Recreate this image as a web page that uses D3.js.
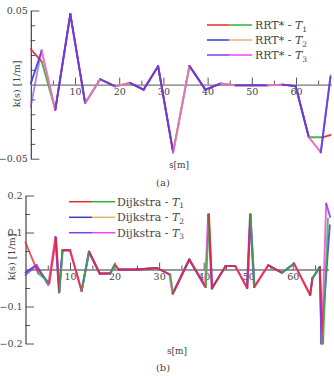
<!DOCTYPE html>
<html>
<head>
<meta charset="utf-8">
<script src="https://cdn.jsdelivr.net/npm/d3@7"></script>
<style>
  body { margin: 0; background: #fff; }
  svg { display: block; font-family: "DejaVu Serif", serif; }
</style>
</head>
<body>
<div id="chart"></div>
<script>
// panel (a): RRT*
const sA1 = [0, 2.5, 5.54, 8.94, 12.3, 15.7, 19.1, 22.4, 25.5, 28.8, 32.2, 35.9, 39.5, 42.9, 46.3, 50.0, 53.5, 56.9, 59.9, 62.9, 66.2, 67.8];
const kA1 = [0.0239, 0.0153, -0.017, 0.0476, -0.0125, 0.0036, -0.0012, 0.0011, -0.0034, 0.0124, -0.0457, 0.0126, -0.0034, 0.0007, -0.0005, -0.0005, -0.0005, 0.0, -0.001, -0.0355, -0.0355, -0.034];
const pA1 = [0, 1, 0, 0, 1, 0, 1, 0, 0, 0, 1, 0, 0, 1, 0, 0, 1, 0, 0, 1, 0, 0];

const sA2 = [0, 2.5, 5.54, 8.94, 12.3, 15.7, 19.1, 22.4, 25.5, 28.8, 32.2, 35.9, 39.5, 42.9, 46.3, 50.0, 53.5, 56.9, 59.9, 62.9, 65.6, 67.8];
const kA2 = [0.0007, 0.023, -0.017, 0.0476, -0.0125, 0.0036, -0.0012, 0.0011, -0.0034, 0.0124, -0.0457, 0.0126, -0.0034, 0.0007, -0.0005, -0.0005, -0.0005, 0.0, -0.001, -0.0355, -0.0457, 0.0051];
const pA2 = [0, 1, 0, 0, 1, 0, 1, 0, 0, 0, 1, 0, 0, 1, 0, 0, 1, 0, 0, 1, 0, 0];

const sA3 = [0, 2.4, 5.54, 8.94, 12.3, 15.7, 19.1, 22.4, 25.5, 28.8, 32.2, 35.9, 39.5, 42.9, 46.3, 50.0, 53.5, 56.9, 59.9, 62.9, 65.6, 67.8];
const kA3 = [-0.0147, 0.023, -0.017, 0.0476, -0.0125, 0.0036, -0.0012, 0.0011, -0.0034, 0.0124, -0.0457, 0.0126, -0.0034, 0.0007, -0.0005, -0.0005, -0.0005, 0.0, -0.001, -0.0355, -0.0457, 0.0063];
const pA3 = [0, 1, 0, 0, 1, 0, 1, 0, 0, 0, 1, 0, 0, 1, 0, 0, 1, 0, 0, 1, 0, 0];

// panel (b): Dijkstra
const sB1 = [0, 2.9, 5.35, 6.85, 7.6, 8.35, 10, 12.6, 14.3, 16.7, 19, 20.1, 20.9, 25, 29.5, 32.5, 33.1, 36.8, 40.5, 41.2, 41.9, 44.9, 47.1, 49.8, 50.5, 51.4, 54.5, 57.6, 60.3, 63.9, 64.4, 66.1, 66.8, 67.9];
const kB1 = [0.073, -0.011, -0.036, 0.086, -0.06, 0.052, 0.052, -0.058, 0.048, -0.011, -0.011, 0.0135, 0, 0, 0.004, -0.0135, -0.065, 0.027, -0.047, 0.149, -0.051, 0.009, 0.009, -0.05, 0.149, -0.047, 0.0115, -0.009, 0.016, -0.069, -0.024, 0.007, -0.2, 0.138];
const pB1 = [0, 1, 0, 0, 1, 0, 0, 1, 0, 0, 1, 0, 0, 0, 0, 1, 0, 0, 1, 0, 0, 0, 0, 0, 1, 0, 0, 1, 0, 0, 1, 0, 1, 0];

const sB2 = [0, 2.2, 5.3, 6.8, 7.6, 8.3, 10, 12.6, 14.3, 16.7, 19, 20.1, 20.9, 25, 29.5, 32.4, 33.1, 36.8, 40.4, 41.1, 41.9, 44.9, 47.1, 49.8, 50.5, 51.4, 54.5, 57.6, 60.3, 63.9, 64.4, 66.1, 66.4, 68.3];
const kB2 = [-0.008, 0.01, -0.038, 0.086, -0.06, 0.052, 0.052, -0.058, 0.048, -0.011, -0.011, 0.0135, 0, 0, 0.004, -0.0135, -0.065, 0.027, -0.047, 0.149, -0.051, 0.009, 0.009, -0.05, 0.149, -0.047, 0.0115, -0.009, 0.016, -0.069, -0.024, 0.007, -0.2, 0.12];
const pB2 = [0, 0, 1, 0, 0, 0, 1, 0, 0, 0, 0, 1, 0, 0, 0, 1, 0, 0, 1, 0, 0, 0, 1, 0, 0, 1, 0, 0, 1, 0, 0, 0, 0, 0];

const sB3 = [0, 2.5, 5.1, 6.7, 7.5, 8.3, 10, 12.6, 14.2, 16.6, 19, 20.0, 20.9, 25, 29.5, 32.3, 33.0, 36.7, 40.3, 41.0, 41.8, 44.9, 47.1, 49.7, 50.4, 51.3, 54.5, 57.6, 60.3, 63.9, 64.4, 66.0, 66.5, 67.5, 68.4];
const kB3 = [-0.015, 0.012, -0.042, 0.088, -0.062, 0.052, 0.052, -0.058, 0.048, -0.011, -0.011, 0.0135, 0, 0, 0.004, -0.0135, -0.065, 0.027, -0.047, 0.149, -0.051, 0.009, 0.009, -0.05, 0.149, -0.047, 0.0115, -0.009, 0.016, -0.069, -0.024, 0.007, -0.2, 0.178, 0.142];
const pB3 = [0, 0, 1, 0, 0, 0, 1, 0, 0, 0, 0, 1, 0, 0, 0, 1, 0, 0, 1, 0, 0, 0, 1, 0, 0, 1, 0, 0, 1, 0, 0, 0, 1, 0, 0];

const colT1 = ["#e62a2e", "#33b033"];
const colT2 = ["#3c3cc8", "#eab070"];
const colT3 = ["#7e3cee", "#f046f0"];

const xMajor = [10, 20, 30, 40, 50, 60];
const xMinor = [5, 15, 25, 35, 45, 55, 65];
const yMajorA = [-0.05, 0.05];
const yMinorA = [-0.04, -0.03, -0.02, -0.01, 0.01, 0.02, 0.03, 0.04];
const yMajorB = [-0.2, -0.1, 0.1, 0.2];
const yMinorB = [-0.15, -0.05, 0.05, 0.15];

const W = 334, H = 376;
const textCol = "#444";
const svg = d3.select("#chart").append("svg")
    .attr("width", W)
    .attr("height", H);

const panelA = {
    x: d3.scaleLinear().domain([0, 68]).range([30.8, 331.4]),
    y: d3.scaleLinear().domain([-0.05, 0.05]).range([158.7, 10.5]),
    yMajor: yMajorA, yMinor: yMinorA, fmt: d3.format(".2f"),
    ylabelX: 20, ylabelY: 84,
    xlabel: [179, 168], tag: [163, 186], tagText: "(a)",
    series: [[sA1, kA1, pA1, colT1, 0.9], [sA2, kA2, pA2, colT2, 0.9], [sA3, kA3, pA3, colT3, 0.62]],
    legend: {x0: 207, x1: 252, tx: 255, rows: [25, 40, 55], name: "RRT* - "}
};
const panelB = {
    x: d3.scaleLinear().domain([0, 68]).range([25.5, 328.4]),
    y: d3.scaleLinear().domain([-0.2, 0.2]).range([343.5, 195.5]),
    yMajor: yMajorB, yMinor: yMinorB, fmt: d3.format(".1f"),
    ylabelX: 15, ylabelY: 257,
    xlabel: [177, 354], tag: [163, 371], tagText: "(b)",
    series: [[sB2, kB2, pB2, colT2, 0.85], [sB3, kB3, pB3, colT3, 0.85], [sB1, kB1, pB1, colT1, 0.8]],
    legend: {x0: 69, x1: 115, tx: 117, rows: [201.7, 217.3, 232.7], name: "Dijkstra - "}
};

function drawPanel(p) {
    const g = svg.append("g");
    const x0 = p.x.range()[0];
    const yZero = p.y(0);

    // y axis, ticks pointing inward
    g.append("g")
        .attr("transform", `translate(${x0},0)`)
        .call(d3.axisLeft(p.y).tickValues(p.yMinor).tickSize(-4.5).tickSizeOuter(0).tickFormat(""))
        .call(a => a.select(".domain").remove());
    const yAx = g.append("g")
        .attr("transform", `translate(${x0},0)`)
        .call(d3.axisLeft(p.y).tickValues(p.yMajor).tickSize(-8.5).tickSizeOuter(0).tickPadding(3).tickFormat(p.fmt));

    // x axis on k=0, ticks pointing up
    g.append("g")
        .attr("transform", `translate(0,${yZero})`)
        .call(d3.axisBottom(p.x).tickValues(xMinor).tickSize(-4).tickSizeOuter(0).tickFormat(""))
        .call(a => a.select(".domain").remove());
    const xAx = g.append("g")
        .attr("transform", `translate(0,${yZero})`)
        .call(d3.axisBottom(p.x).tickValues(xMajor).tickSize(-7).tickSizeOuter(0).tickPadding(4).tickFormat(d3.format("d")));

    g.selectAll(".tick line").attr("stroke", "#555").attr("stroke-width", 1);
    yAx.select(".domain").attr("stroke", "#333").attr("stroke-width", 1.1);
    xAx.select(".domain").attr("stroke", "#777").attr("stroke-width", 1.3);
    g.selectAll("g").attr("font-family", null);
    g.selectAll(".tick text")
        .attr("fill", textCol)
        .style("font-family", "'DejaVu Serif', serif")
        .style("font-size", "9.5px");

    // curves: each segment coloured by its part index
    p.series.forEach(([s, k, part, cols, op]) => {
        for (let i = 0; i < s.length - 1; i++) {
            g.append("line")
                .attr("x1", p.x(s[i])).attr("y1", p.y(k[i]))
                .attr("x2", p.x(s[i + 1])).attr("y2", p.y(k[i + 1]))
                .attr("stroke", cols[part[i]])
                .attr("stroke-width", 1.9)
                .attr("stroke-linecap", "round")
                .attr("stroke-opacity", op);
        }
    });

    // legend
    const cols = [colT1, colT2, colT3];
    const lg = p.legend;
    lg.rows.forEach((ry, i) => {
        const mid = (lg.x0 + lg.x1) / 2;
        g.append("line").attr("x1", lg.x0).attr("x2", mid).attr("y1", ry).attr("y2", ry)
            .attr("stroke", cols[i][0]).attr("stroke-width", 1.5);
        g.append("line").attr("x1", mid).attr("x2", lg.x1).attr("y1", ry).attr("y2", ry)
            .attr("stroke", cols[i][1]).attr("stroke-width", 1.5);
        const t = g.append("text")
            .attr("x", lg.tx).attr("y", ry + 4)
            .attr("fill", textCol)
            .style("font-size", "11px")
            .text(lg.name);
        t.append("tspan").style("font-style", "italic").text("T");
        t.append("tspan").attr("dy", 2.5).style("font-size", "7.5px").text(i + 1);
    });

    // axis labels
    g.append("text")
        .attr("transform", `translate(${p.ylabelX},${p.ylabelY}) rotate(-90)`)
        .attr("text-anchor", "middle")
        .attr("fill", textCol)
        .style("font-size", "9.5px")
        .text("k(s) [1/m]");
    g.append("text")
        .attr("x", p.xlabel[0]).attr("y", p.xlabel[1])
        .attr("text-anchor", "middle")
        .attr("fill", textCol)
        .style("font-size", "9px")
        .text("s[m]");
    g.append("text")
        .attr("x", p.tag[0]).attr("y", p.tag[1])
        .attr("text-anchor", "middle")
        .attr("fill", textCol)
        .style("font-size", "10px")
        .text(p.tagText);
}

drawPanel(panelA);
drawPanel(panelB);
</script>
</body>
</html>
